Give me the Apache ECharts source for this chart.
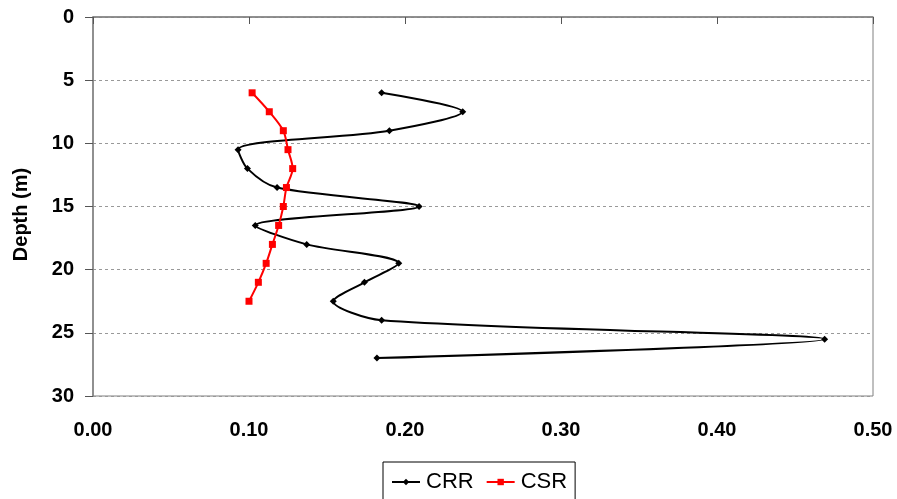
<!DOCTYPE html>
<html>
<head>
<meta charset="utf-8">
<script src="https://cdn.jsdelivr.net/npm/echarts@6/dist/echarts.min.js"></script>
<style>
  html, body { margin: 0; padding: 0; background: #fff; }
  #chart { width: 897px; height: 499px; }
</style>
</head>
<body>
<div id="chart"></div>
<script>
// depth (m) and ratio values
var crrDepth = [6.0, 7.5, 9.0, 10.5, 12.0, 13.5, 15.0, 16.5, 18.0, 19.5, 21.0, 22.5, 24.0, 25.5, 27.0];
var crrValue = [0.185, 0.237, 0.190, 0.093, 0.099, 0.118, 0.209, 0.104, 0.137, 0.196, 0.174, 0.154, 0.185, 0.469, 0.182];
var csrDepth = [6.0, 7.5, 9.0, 10.5, 12.0, 13.5, 15.0, 16.5, 18.0, 19.5, 21.0, 22.5];
var csrValue = [0.102, 0.113, 0.122, 0.125, 0.128, 0.124, 0.122, 0.119, 0.115, 0.111, 0.106, 0.100];
var xTicks = [0, 0.5, 0.1];
var yTicks = [0, 30, 5];

function pairs(xs, ys) {
    return xs.map(function (v, i) { return [v, ys[i]]; });
}

var chart = echarts.init(document.getElementById('chart'));
var font = 'Liberation Sans, Arial, sans-serif';
var option = {
    animation: false,
    grid: { left: 93, right: 24, top: 17, bottom: 103, containLabel: false,
            show: true, borderColor: '#808080', borderWidth: 1 },
    legend: {
        top: 462,
        left: 383,
        data: ['CRR', 'CSR'],
        itemWidth: 28,
        itemHeight: 8,
        itemGap: 12,
        padding: [9, 8, 12, 8],
        borderColor: '#000',
        borderWidth: 1,
        textStyle: { fontFamily: font, fontSize: 22, color: '#000', padding: [0, 0, 0, 1] }
    },
    xAxis: {
        type: 'value',
        min: xTicks[0], max: xTicks[1], interval: xTicks[2],
        axisLine: { lineStyle: { color: '#808080', width: 1.5 } },
        axisTick: { show: true, inside: false, length: 7, lineStyle: { color: '#555' } },
        splitLine: { show: false },
        axisLabel: {
            fontFamily: font, fontSize: 20, fontWeight: 'bold', color: '#000', margin: 24,
            formatter: function (v) { return v.toFixed(2); }
        }
    },
    yAxis: {
        type: 'value',
        inverse: true,
        min: yTicks[0], max: yTicks[1], interval: yTicks[2],
        name: 'Depth (m)',
        nameLocation: 'middle',
        nameGap: 62,
        nameRotate: 90,
        nameTextStyle: { fontFamily: font, fontSize: 20, fontWeight: 'bold', color: '#000',
                         padding: [0, 16, 0, 0] },
        axisLine: { show: true, lineStyle: { color: '#808080', width: 1.5 } },
        axisTick: { show: true, inside: false, length: 8, lineStyle: { color: '#555' } },
        splitLine: { show: true, lineStyle: { color: '#999', type: [3, 3], width: 1 } },
        axisLabel: { fontFamily: font, fontSize: 20, fontWeight: 'bold', color: '#000', margin: 19 }
    },
    series: [
        {
            name: 'CRR',
            type: 'line',
            data: pairs(crrValue, crrDepth),
            smooth: 0.3,
            symbol: 'diamond',
            symbolSize: 7,
            lineStyle: { color: '#000', width: 2 },
            itemStyle: { color: '#000' }
        },
        {
            name: 'CSR',
            type: 'line',
            data: pairs(csrValue, csrDepth),
            smooth: 0.3,
            symbol: 'rect',
            symbolSize: 7,
            lineStyle: { color: '#ff0000', width: 2 },
            itemStyle: { color: '#ff0000' }
        }
    ]
};
chart.setOption(option);
window.onresize = chart.resize;
</script>
</body>
</html>
